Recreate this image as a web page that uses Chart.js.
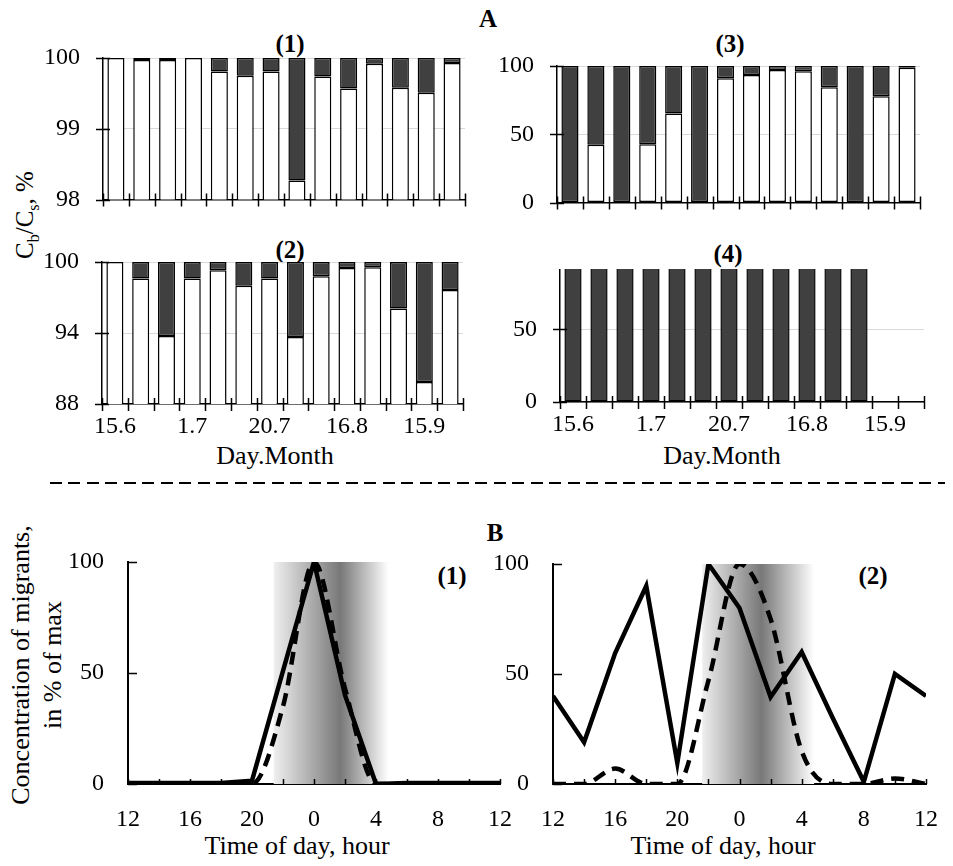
<!DOCTYPE html>
<html>
<head>
<meta charset="utf-8">
<script src="https://cdn.jsdelivr.net/npm/chart.js@4.4.1/dist/chart.umd.min.js"></script>
<style>
body { margin: 0; background: #fff; width: 953px; height: 866px; position: relative; overflow: hidden; font-family: 'Liberation Serif', 'Times New Roman', serif; color: #000; }
canvas { position: absolute; }
.t { position: absolute; font-size: 26px; white-space: nowrap; transform: translate(-50%, -50%); line-height: 1; }
.b { font-weight: bold; font-size: 25px; }
.rot { transform: translate(-50%, -50%) rotate(-90deg); text-align: center; }
#sep { position: absolute; left: 50px; top: 482px; width: 895px; height: 2px;
       background: repeating-linear-gradient(90deg, #000 0 12px, transparent 12px 18.5px); }
</style>
</head>
<body>
<div class="t b" style="left:488px;top:18px">A</div>
<div class="t b" style="left:495px;top:532px">B</div>
<div class="t b" style="left:290px;top:43px">(1)</div>
<div class="t b" style="left:290px;top:249px">(2)</div>
<div class="t b" style="left:730px;top:43px">(3)</div>
<div class="t b" style="left:728px;top:253px">(4)</div>
<div class="t b" style="left:452px;top:575px">(1)</div>
<div class="t b" style="left:873px;top:575px">(2)</div>
<div class="t rot" style="left:27px;top:215px;font-size:25px">C<sub style="font-size:16px">b</sub>/C<sub style="font-size:16px">s</sub>, %</div>
<div class="t" style="left:275px;top:456px">Day.Month</div>
<div class="t" style="left:722px;top:456px">Day.Month</div>
<div class="t rot" style="left:37px;top:665px;line-height:32px">Concentration of migrants,<br>in % of max</div>
<div class="t" style="left:297px;top:846px">Time of day, hour</div>
<div class="t" style="left:723px;top:846px">Time of day, hour</div>
<div id="sep"></div>

<canvas id="a1" width="440" height="172" style="left:33px;top:42px"></canvas>
<canvas id="a2" width="439" height="198" style="left:32px;top:246px"></canvas>
<canvas id="a3" width="441" height="167" style="left:487px;top:50px"></canvas>
<canvas id="a4" width="442" height="188" style="left:490px;top:254px"></canvas>
<canvas id="b1" width="462" height="288" style="left:58px;top:546px"></canvas>
<canvas id="b2" width="463" height="286" style="left:483px;top:548px"></canvas>

<script>
// Panel A: sampling dates (only every third is labelled)
const dateLabels = ['15.6', '', '', '1.7', '', '', '20.7', '', '', '16.8', '', '', '15.9', ''];

// C_b/C_s, % (white part of each bar; the dark part fills up to 100)
const whiteA1 = [100, 99.97, 99.97, 100, 99.81, 99.75, 99.81, 98.27, 99.74, 99.57, 99.92, 99.58, 99.51, 99.93];
const whiteA2 = [100, 98.6, 93.75, 98.6, 99.3, 98.0, 98.6, 93.66, 98.8, 99.5, 99.55, 96.06, 89.86, 97.63];
const whiteA3 = [0, 42.4, 0, 42.7, 65.2, 0, 91.1, 93.5, 97.1, 96.2, 84.4, 0, 77.9, 98.8];
const whiteA4 = [0, 0, 0, 0, 0, 0, 0, 0, 0, 0, 0, 0, null, null];

const ticksA1 = [98, 99, 100];
const ticksA2 = [88, 94, 100];
const ticksA3 = [0, 50, 100];
const ticksA4 = [0, 50];

// Panel B: hours since noon, values in % of max
const hoursB = [0, 2, 4, 6, 8, 10, 12, 14, 16, 18, 20, 22, 24];
const clockLabels = ['12', '16', '20', '0', '4', '8', '12'];
const solidB1 = [0.5, 0.5, 0.5, 0.5, 1.5, 51, 100, 40, 0, 0.5, 0.5, 0.5, 0.5];
const dashB1 = [0, 0, 0, 0, 0, 35, 100, 43, 0, 0, 0, 0, 0];
const solidB2 = [40, 19, 59.5, 90, 9.5, 100, 80, 39.5, 60, 30, 1, 50, 40];
const dashB2 = [0, 0, 7, 0, 0, 47, 100, 75, 15, 0, 0, 2.5, 0];
// dark (night) band: start, darkest, end in hours since noon
const nightB1 = [9.4, 13.7, 16.8];
const nightB2 = [9.6, 13.4, 16.8];

Chart.defaults.font.family = "'Liberation Serif', 'Times New Roman', serif";
Chart.defaults.font.size = 24;
Chart.defaults.color = '#000';
Chart.defaults.animation = false;

// tick marks that cross the axis lines
const crossTicks = {
    id: 'crossTicks',
    afterDraw(chart, args, o) {
        const { ctx, chartArea, scales: { x, y } } = chart;
        ctx.save();
        ctx.strokeStyle = '#000';
        ctx.lineWidth = o.width;
        ctx.beginPath();
        y.ticks.forEach(t => {
            const py = Math.round(y.getPixelForValue(t.value)) + 0.5;
            ctx.moveTo(chartArea.left - o.yOut, py);
            ctx.lineTo(chartArea.left + o.yIn, py);
        });
        const xs = [];
        if (x.type === 'category') {
            for (let i = 0; i <= x.getLabels().length; i++) xs.push(x.getPixelForValue(i - 0.5));
        } else {
            x.ticks.forEach(t => xs.push(x.getPixelForValue(t.value)));
        }
        xs.forEach(px => {
            px = Math.round(px) + 0.5;
            ctx.moveTo(px, chartArea.bottom + o.xOut);
            ctx.lineTo(px, chartArea.bottom - o.xIn);
        });
        ctx.stroke();
        ctx.restore();
    }
};

// gradient shading for the night hours
const nightBand = {
    id: 'nightBand',
    beforeDatasetsDraw(chart, args, o) {
        if (!o.range) return;
        const { ctx, chartArea, scales: { x, y } } = chart;
        const x0 = x.getPixelForValue(o.range[0]);
        const xm = x.getPixelForValue(o.range[1]);
        const x1 = x.getPixelForValue(o.range[2]);
        const top = y.getPixelForValue(100);
        const g = ctx.createLinearGradient(x0, 0, x1, 0);
        g.addColorStop(0, '#efefef');
        g.addColorStop((xm - x0) / (x1 - x0), '#787878');
        g.addColorStop(1, '#ffffff');
        ctx.save();
        ctx.fillStyle = g;
        ctx.fillRect(x0, top, x1 - x0, chartArea.bottom - top);
        ctx.restore();
    }
};

// invisible tick marks are used only as spacing between axis and labels
function spacer(len) {
    return { drawOnChartArea: false, drawTicks: true, tickLength: len, tickColor: 'rgba(0,0,0,0)' };
}

function barPanel(id, white, yTicks, yMin, yMax, showLabels) {
    const barStyle = {
        borderColor: '#000',
        borderWidth: 1.5,
        borderSkipped: false,
        grouped: false,
        categoryPercentage: 1,
        barPercentage: 0.66,
        clip: { left: 3, right: 3, top: 1, bottom: 0 }
    };
    new Chart(document.getElementById(id), {
        type: 'bar',
        data: {
            labels: dateLabels,
            datasets: [
                Object.assign({ data: white.map(v => v === null ? null : [v, 100]), backgroundColor: '#404040' }, barStyle),
                Object.assign({ data: white, backgroundColor: '#ffffff' }, barStyle)
            ]
        },
        options: {
            responsive: false,
            maintainAspectRatio: false,
            layout: { padding: { top: 16, right: 8, left: 0, bottom: 0 } },
            plugins: {
                legend: { display: false },
                tooltip: { enabled: false },
                crossTicks: { width: 1.5, yOut: 7, yIn: 7, xOut: 7, xIn: 6 }
            },
            scales: {
                x: {
                    grid: spacer(8),
                    border: { color: '#000', width: 1.5 },
                    ticks: { display: showLabels, autoSkip: false, maxRotation: 0, padding: 0 },
                    afterFit(s) { s.height = showLabels ? 40 : 12; }
                },
                y: {
                    min: yMin,
                    max: yMax,
                    grid: { color: '#d9d9d9', lineWidth: 1, drawTicks: true, tickLength: 23, tickColor: 'rgba(0,0,0,0)' },
                    border: { color: '#000', width: 1.5 },
                    ticks: { padding: 0 },
                    afterBuildTicks(s) { s.ticks = yTicks.map(v => ({ value: v })); },
                    afterFit(s) { s.width = 70; }
                }
            }
        },
        plugins: [crossTicks]
    });
}

function linePanel(id, solid, dashed, night) {
    new Chart(document.getElementById(id), {
        type: 'line',
        data: {
            datasets: [
                {
                    data: hoursB.map((h, i) => ({ x: h, y: solid[i] })),
                    borderColor: '#000', borderWidth: 4.5, pointRadius: 0, tension: 0,
                    borderJoinStyle: 'miter'
                },
                {
                    data: hoursB.map((h, i) => ({ x: h, y: dashed[i] })),
                    borderColor: '#000', borderWidth: 4.5, pointRadius: 0,
                    borderDash: [13, 8], cubicInterpolationMode: 'monotone'
                }
            ]
        },
        options: {
            responsive: false,
            maintainAspectRatio: false,
            layout: { padding: { top: 16, right: 20, left: 0, bottom: 0 } },
            plugins: {
                legend: { display: false },
                tooltip: { enabled: false },
                crossTicks: { width: 1.5, yOut: 0, yIn: 9, xOut: 0, xIn: 5 },
                nightBand: { range: night }
            },
            scales: {
                x: {
                    type: 'linear',
                    min: 0,
                    max: 24,
                    grid: spacer(21),
                    border: { color: '#000', width: 2 },
                    ticks: {
                        stepSize: 2, autoSkip: false, maxRotation: 0, padding: 0,
                        callback: v => v % 4 === 0 ? clockLabels[v / 4] : ''
                    },
                    afterFit(s) { s.height = 50; }
                },
                y: {
                    min: 0,
                    max: 100,
                    grid: spacer(24),
                    border: { color: '#000', width: 2 },
                    ticks: { stepSize: 50, padding: 0 },
                    afterFit(s) { s.width = 70; }
                }
            }
        },
        plugins: [nightBand, crossTicks]
    });
}

barPanel('a1', whiteA1, ticksA1, 98, 100, false);
barPanel('a2', whiteA2, ticksA2, 88, 100, true);
barPanel('a3', whiteA3, ticksA3, 0, 100, false);
barPanel('a4', whiteA4, ticksA4, 0, 91, true);
linePanel('b1', solidB1, dashB1, nightB1);
linePanel('b2', solidB2, dashB2, nightB2);
</script>
</body>
</html>
